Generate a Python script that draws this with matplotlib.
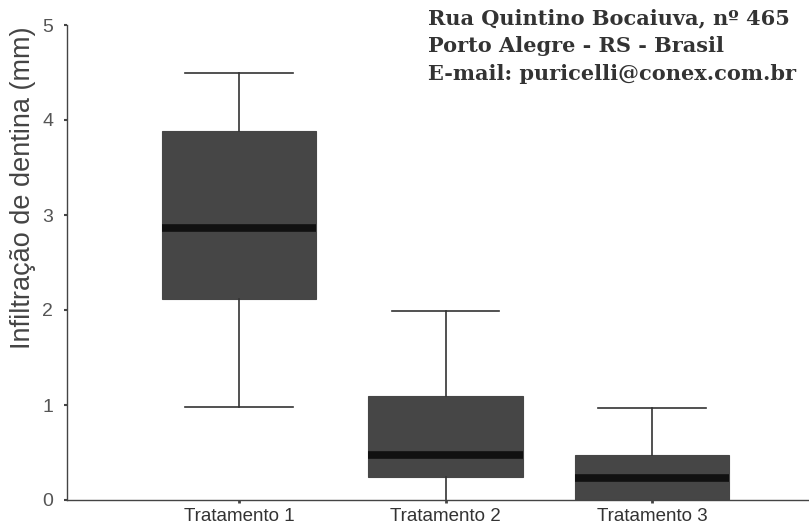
import matplotlib.pyplot as plt

# box statistics (mm)
labels = ["Tratamento 1", "Tratamento 2", "Tratamento 3"]
whis_lo = [0.98, 0.0, 0.0]
q1 = [2.12, 0.24, 0.0]
median = [2.86, 0.47, 0.23]
q3 = [3.88, 1.10, 0.47]
whis_hi = [4.49, 1.99, 0.97]

stats = []
for i in range(len(labels)):
    stats.append({"label": labels[i], "whislo": whis_lo[i], "q1": q1[i],
                  "med": median[i], "q3": q3[i], "whishi": whis_hi[i]})

fig = plt.figure(figsize=(8.09, 5.26), dpi=100)
ax = fig.add_axes([67 / 809, 26 / 526, 1 - 67 / 809, 475 / 526])

bp = ax.bxp(stats, positions=[1, 2, 3], widths=0.75, showfliers=False,
            patch_artist=True,
            boxprops=dict(facecolor="#464646", edgecolor="#464646", linewidth=0.8),
            medianprops=dict(color="#111111", linewidth=5.5),
            whiskerprops=dict(color="#333333", linewidth=1.2),
            capprops=dict(color="#333333", linewidth=1.2),
            capwidths=0.52)
# no caps where the whisker runs down to the axis
for i in range(len(labels)):
    if whis_lo[i] == 0:
        bp["caps"][2 * i].set_visible(False)

ax.set_xlim(0.167, 3.76)
ax.set_ylim(0, 5)
ax.set_yticks([0, 1, 2, 3, 4, 5])
for s in ["top", "right"]:
    ax.spines[s].set_visible(False)
for s in ["left", "bottom"]:
    ax.spines[s].set_color("#444444")
    ax.spines[s].set_linewidth(1.0)

narrow = ["Liberation Sans Narrow", "Liberation Sans", "DejaVu Sans"]
ax.tick_params(axis="y", length=2, width=1.5, color="#444444", pad=8,
               labelsize=14, labelcolor="#555555")
ax.tick_params(axis="x", length=2, width=2, color="#444444", pad=4,
               labelsize=13.5, labelcolor="#333333")
for t in ax.get_yticklabels() + ax.get_xticklabels():
    t.set_family(narrow)

ax.set_ylabel("Infiltração de dentina (mm)", fontsize=19.5, color="#444444",
              family=["Liberation Sans", "DejaVu Sans"])
ax.yaxis.set_label_coords(-0.042, 0.657)

addr = ["Rua Quintino Bocaiuva, nº 465",
        "Porto Alegre - RS - Brasil",
        "E-mail: puricelli@conex.com.br"]
for k, line in enumerate(addr):
    fig.text(428 / 809, 1 - (18 + 28 * k) / 526, line, fontsize=15,
             fontweight="bold", color="#333333", va="center",
             family=["DejaVu Serif", "Liberation Serif"])

fig.savefig("out.png", dpi=100)
